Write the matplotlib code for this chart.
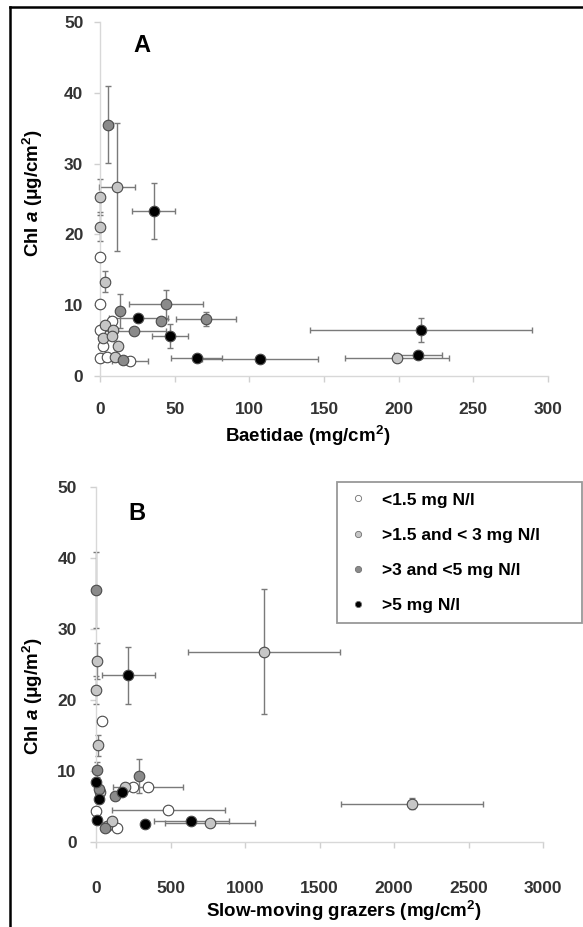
import matplotlib
matplotlib.use('Agg')
import matplotlib.pyplot as plt
from matplotlib.lines import Line2D
import numpy as np

plt.rcParams['font.family'] = ['Liberation Sans', 'DejaVu Sans']
plt.rcParams['font.weight'] = 'bold'
plt.rcParams['mathtext.fontset'] = 'custom'
plt.rcParams['mathtext.rm'] = 'Liberation Sans:bold'
plt.rcParams['mathtext.it'] = 'Liberation Sans:bold:italic'
plt.rcParams['mathtext.bf'] = 'Liberation Sans:bold'

groups = ['<1.5 mg N/l', '>1.5 and < 3 mg N/l', '>3 and <5 mg N/l', '>5 mg N/l']
fills = ['#ffffff', '#c6c6c6', '#8a8a8a', '#000000']

# panel A: Baetidae biomass vs Chl a, one list per nitrogen group
a_x = [[0, 0, 8, 0, 2, 0, 5, 20],
       [0, 0, 3.5, 11.6, 3.5, 9, 2, 8, 12, 10, 199],
       [5.6, 13.4, 44.2, 41, 71, 23, 15.6],
       [36, 25.7, 47, 64.7, 107, 215, 213]]
a_y = [[16.8, 10.1, 7.7, 6.5, 4.2, 2.6, 2.7, 2.1],
       [25.3, 21.1, 13.3, 26.7, 7.2, 6.5, 5.3, 5.6, 4.2, 2.7, 2.5],
       [35.5, 9.2, 10.1, 7.7, 8.0, 6.3, 2.3],
       [23.3, 8.2, 5.6, 2.6, 2.35, 6.5, 3.0]]
a_xerr = [[0, 0, 0, 0, 0, 0, 0, 12],
          [0, 0, 0, 12, 0, 0, 0, 0, 0, 0, 35],
          [3, 0, 25, 0, 20, 21, 0],
          [14.5, 20, 12, 17, 39, 74.5, 16]]
a_yerr = [[0, 0, 0, 0, 0, 0, 0, 0],
          [2.5, 2, 1.5, 9, 0, 0, 0, 0, 0, 0, 0],
          [5.4, 2.4, 2, 0, 1, 0, 0],
          [4, 0, 1.7, 0, 0, 1.7, 0]]

# panel B: slow-moving grazers vs Chl a
b_x = [[38, 246, 351, 485, 143, 0],
       [9, 0, 15, 1128, 2119, 765, 72, 105, 195, 30],
       [0, 4, 291, 128, 20, 60],
       [217, 0, 22, 172, 4, 329, 640]]
b_y = [[17.1, 7.7, 7.7, 4.5, 2.0, 4.3],
       [25.5, 21.4, 13.6, 26.8, 5.4, 2.7, 2.3, 3.0, 7.7, 7.0],
       [35.5, 10.2, 9.3, 6.5, 7.5, 2.0],
       [23.5, 8.4, 6.0, 7.1, 3.1, 2.5, 2.9]]
b_xerr = [[0, 0, 235, 380, 0, 0],
          [0, 0, 0, 510, 475, 300, 0, 0, 0, 0],
          [0, 0, 0, 0, 0, 0],
          [180, 0, 0, 0, 0, 0, 250]]
b_yerr = [[0, 0, 0, 0, 0, 0],
          [2.5, 2, 1.5, 8.8, 0.8, 0, 0, 0, 0, 0],
          [5.4, 1, 2.4, 0, 0, 0],
          [4, 0, 0, 0, 0, 0, 0]]


def draw(ax, xs, ys, xes, yes, xmax, xstep):
    for x, y, xe, ye in zip(xs, ys, xes, yes):
        x, y, xe, ye = map(np.array, (x, y, xe, ye))
        m = xe > 0
        if m.any():
            ax.errorbar(x[m], y[m], xerr=xe[m], fmt='none', ecolor='#7a7a7a',
                        elinewidth=1.0, capsize=2.5, capthick=1.0, zorder=2, clip_on=False)
        m = ye > 0
        if m.any():
            ax.errorbar(x[m], y[m], yerr=ye[m], fmt='none', ecolor='#7a7a7a',
                        elinewidth=1.0, capsize=2.5, capthick=1.0, zorder=2, clip_on=False)
    for i in range(len(xs)):
        ax.plot(xs[i], ys[i], 'o', ls='none', ms=7.6, mfc=fills[i], mec='#4a4a4a',
                mew=0.8, zorder=3, clip_on=False)
    ax.set_xlim(0, xmax)
    ax.set_ylim(0, 50)
    ax.set_xticks(np.arange(0, xmax + 1, xstep))
    ax.set_yticks(np.arange(0, 51, 10))
    for s in ['top', 'right']:
        ax.spines[s].set_visible(False)
    for s in ['left', 'bottom']:
        ax.spines[s].set_color('#d8d8d8')
        ax.spines[s].set_linewidth(1.0)
    ax.tick_params(colors='#d0d0d0', labelcolor='#333333', labelsize=12.5, length=4, width=1)


fig = plt.figure(figsize=(5.83, 9.27), dpi=100)
W, H = 583, 927
axA = fig.add_axes([100 / W, 1 - 376 / H, 448 / W, 354 / H])
axB = fig.add_axes([96 / W, 1 - 842 / H, 447 / W, 355 / H])

draw(axA, a_x, a_y, a_xerr, a_yerr, 300, 50)
draw(axB, b_x, b_y, b_xerr, b_yerr, 3000, 500)
axA.tick_params(axis='x', pad=15)
axB.tick_params(axis='x', pad=24)
axA.tick_params(axis='y', pad=8)
axB.tick_params(axis='y', pad=10)

axA.text(142 / W, 1 - 45 / H, 'A', transform=fig.transFigure, fontsize=17, ha='center', va='center')
axB.text(137 / W, 1 - 513 / H, 'B', transform=fig.transFigure, fontsize=17, ha='center', va='center')

fig.text(308 / W, 1 - 436 / H, r'Baetidae (mg/cm$^{2}$)', fontsize=13.5, ha='center', va='center')
fig.text(344 / W, 1 - 911 / H, r'Slow-moving grazers (mg/cm$^{2}$)', fontsize=13.5, ha='center', va='center')
fig.text(33 / W, 1 - 193 / H, r'Chl $a$ ($\mathrm{\mu}$g/cm$^{2}$)', fontsize=13.5, rotation=90,
         ha='center', va='center')
fig.text(33 / W, 1 - 696 / H, r'Chl $a$ ($\mathrm{\mu}$g/m$^{2}$)', fontsize=13.5, rotation=90,
         ha='center', va='center')

handles = [Line2D([], [], ls='none', marker='o', ms=4.5, mfc=c, mec='#707070', mew=0.6) for c in fills]
leg = fig.legend(handles, groups, loc='upper left', mode='expand',
                 bbox_to_anchor=(337 / W, 1 - 633 / H, 245 / W, 151 / H), borderaxespad=0,
                 fontsize=12.5, labelspacing=1.15, borderpad=0.6, handlelength=1.2,
                 handletextpad=0.8, frameon=True, fancybox=False, framealpha=1)
leg.get_frame().set_edgecolor('#999999')
leg.get_frame().set_linewidth(1.3)

fig.add_artist(Line2D([10 / W, 10 / W], [0, 1 - 7 / H], transform=fig.transFigure, color='k', lw=1.8))
fig.add_artist(Line2D([10 / W, 1], [1 - 7 / H, 1 - 7 / H], transform=fig.transFigure, color='k', lw=1.8))

fig.savefig('out.png', dpi=100)
